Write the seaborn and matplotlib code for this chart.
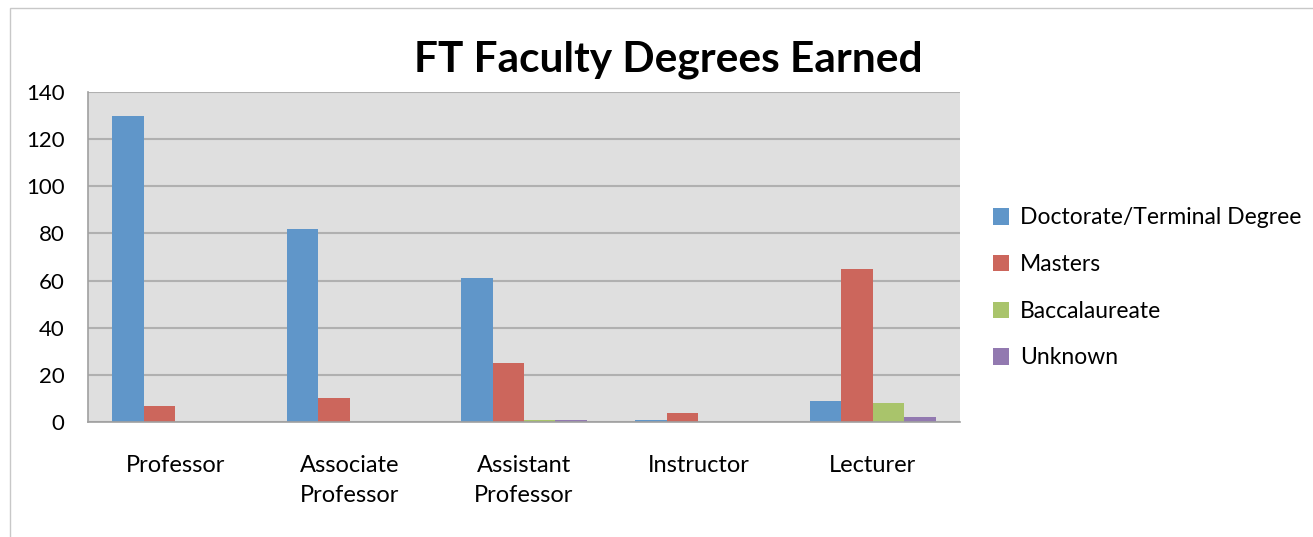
import matplotlib.pyplot as plt
import pandas as pd
import seaborn as sns
from matplotlib.patches import Rectangle

# chart data
ranks = ['Professor', 'Associate\nProfessor', 'Assistant\nProfessor', 'Instructor', 'Lecturer']
degrees = ['Doctorate/Terminal Degree', 'Masters', 'Baccalaureate', 'Unknown']
doctorate = [130, 82, 61, 1, 9]
masters = [7, 10, 25, 4, 65]
baccalaureate = [0, 0, 1, 0, 8]
unknown = [0, 0, 1, 0, 2]
colors = ['#6096C9', '#CC665C', '#A9C46B', '#9279B0']

rows = []
for deg, vals in zip(degrees, [doctorate, masters, baccalaureate, unknown]):
    for r, v in zip(ranks, vals):
        rows.append({'rank': r, 'degree': deg, 'count': v})
df = pd.DataFrame(rows)

sns.set_style('white')
plt.rcParams['font.family'] = ['Lato', 'DejaVu Sans']
plt.rcParams['text.color'] = 'black'
plt.rcParams['xtick.color'] = 'black'
plt.rcParams['ytick.color'] = 'black'

fig = plt.figure(figsize=(13.13, 5.37), dpi=100)
fig.patches.append(Rectangle((10 / 1313, -0.1), 1.1, (537 - 8) / 537 + 0.1,
                             transform=fig.transFigure, fill=False,
                             edgecolor='#C8C8C8', linewidth=1))
ax = fig.add_axes([88 / 1313, 115 / 537, 872 / 1313, 330 / 537])
ax.set_facecolor('#DFDFDF')

sns.barplot(data=df, x='rank', y='count', hue='degree', order=ranks,
            hue_order=degrees, palette=colors, width=0.722, ax=ax,
            linewidth=0, saturation=1, legend=True)

ax.set_ylim(0, 140)
ax.set_yticks(range(0, 141, 20))
ax.set_xlim(-0.5, 4.5)
ax.yaxis.grid(True, color='#B0B0B0', linewidth=1.5)
ax.set_axisbelow(True)
ax.set_xlabel('')
ax.set_ylabel('')
for s in ['top', 'right']:
    ax.spines[s].set_visible(False)
ax.spines['left'].set_color('#A0A0A0')
ax.spines['bottom'].set_color('#A0A0A0')
ax.spines['left'].set_linewidth(1.2)
ax.spines['bottom'].set_linewidth(1.2)

# category separator ticks below the axis
ax.set_xticks([i - 0.5 for i in range(6)], minor=True)
ax.tick_params(axis='x', which='minor', length=8, color='#A0A0A0', width=1.2)
ax.tick_params(axis='x', which='major', length=0, labelsize=17, pad=24)
ax.tick_params(axis='y', length=8, color='#A0A0A0', width=1.2, labelsize=16, pad=9)
for lbl in ax.get_xticklabels():
    lbl.set_linespacing(1.5)

fig.text(0.509, 0.888, 'FT Faculty Degrees Earned', ha='center', va='center',
         fontsize=30.5, fontweight='bold')

ax.legend(loc='center left', bbox_to_anchor=(993 / 1313, (537 - 288) / 537),
          bbox_transform=fig.transFigure, frameon=False, fontsize=16.5,
          borderpad=0, borderaxespad=0,
          handlelength=0.72, handleheight=0.72, handletextpad=0.45,
          labelspacing=1.12)

fig.savefig('out.png', dpi=100)
